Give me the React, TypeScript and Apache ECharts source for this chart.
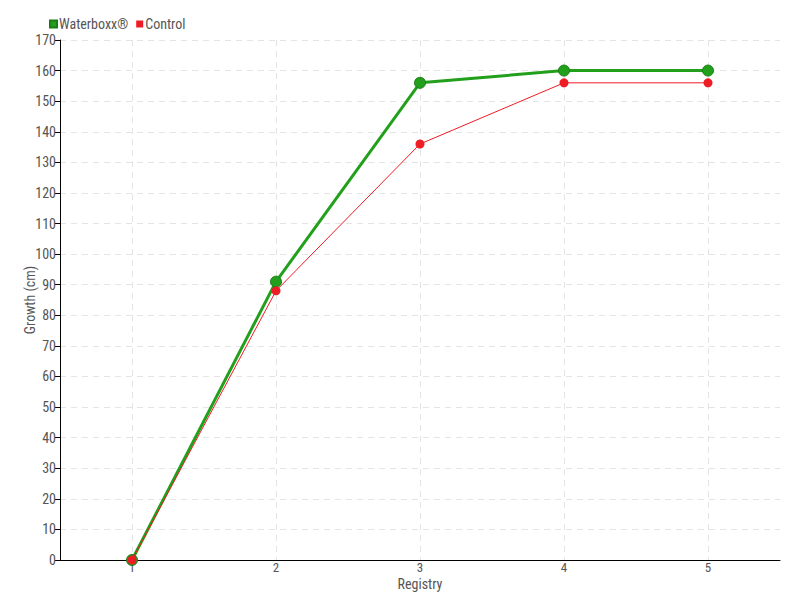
import React, { useEffect, useRef } from "react";
import * as echarts from "echarts";

const categories = ["1", "2", "3", "4", "5"];
const waterboxx = [0, 91, 156, 160, 160];
const control = [0, 88, 136, 156, 156];

const FONT = "Roboto Condensed, Roboto, sans-serif";

export default function App() {
  const ref = useRef<HTMLDivElement>(null);
  useEffect(() => {
    const chart = echarts.init(ref.current!, null, { renderer: "svg" });
    chart.setOption({
      animation: false,
      textStyle: { fontFamily: FONT, color: "#555" },
      legend: {
        left: 44,
        top: 12,
        itemWidth: 7,
        itemHeight: 7,
        itemGap: 8,
        icon: "rect",
        textStyle: { fontSize: 14, color: "#555", fontFamily: FONT, padding: [0, 0, 0, -3] },
        data: [
          { name: "Waterboxx®", itemStyle: { color: "#22a01c" } },
          { name: "Control", itemStyle: { color: "#ee1c24" } },
        ],
      },
      grid: { left: 60, right: 20, top: 40, bottom: 40, outerBoundsMode: "none", containLabel: false },
      xAxis: {
        type: "category",
        data: categories,
        boundaryGap: true,
        name: "Registry",
        nameLocation: "middle",
        nameGap: 18,
        nameMoveOverlap: false,
        nameTextStyle: { fontSize: 14, color: "#555", lineHeight: 12, verticalAlign: "top" },
        axisLine: { lineStyle: { color: "#000", width: 1 } },
        axisTick: { alignWithLabel: true, length: 5, lineStyle: { color: "#000" } },
        axisLabel: { fontSize: 13, color: "#555", margin: 2, lineHeight: 11 },
        splitLine: { show: true, alignWithLabel: true, lineStyle: { color: "#e4e4e4", type: [6, 5] } },
      },
      yAxis: {
        type: "value",
        min: 0,
        max: 170,
        interval: 10,
        name: "Growth (cm)",
        nameLocation: "middle",
        nameGap: 23,
        nameMoveOverlap: false,
        nameTextStyle: { fontSize: 14, color: "#555" },
        axisLine: { show: true, lineStyle: { color: "#000", width: 1 } },
        axisTick: { show: true, length: 5, lineStyle: { color: "#000" } },
        axisLabel: { fontSize: 14, color: "#555", margin: 4 },
        splitLine: { show: true, lineStyle: { color: "#e4e4e4", type: [6, 5] } },
      },
      series: [
        {
          name: "Control",
          type: "line",
          data: control,
          symbol: "circle",
          symbolSize: 9,
          z: 3,
          lineStyle: { color: "#ee1c24", width: 1 },
          itemStyle: { color: "#ee1c24", borderColor: "#ee1c24", borderWidth: 0 },
        },
        {
          name: "Waterboxx®",
          type: "line",
          data: waterboxx,
          symbol: "circle",
          symbolSize: 11,
          z: 2,
          lineStyle: { color: "#22a01c", width: 3 },
          itemStyle: { color: "#22a01c", borderColor: "#1a7d16", borderWidth: 1 },
        },
      ],
    });
    return () => chart.dispose();
  }, []);
  return <div ref={ref} style={{ width: 800, height: 600, position: "absolute", left: 0, top: 0 }} />;
}
